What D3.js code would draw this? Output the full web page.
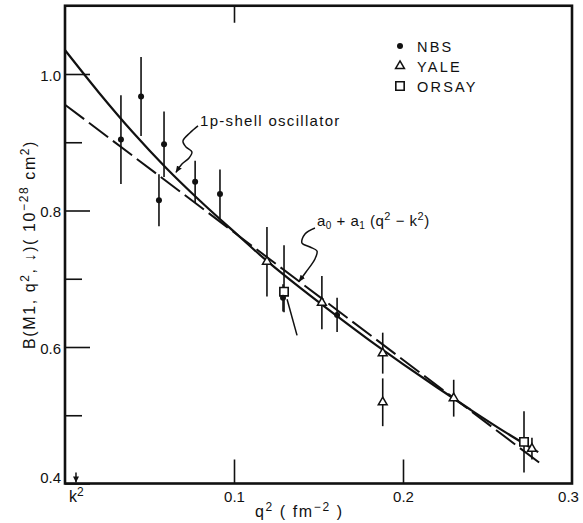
<!DOCTYPE html>
<html><head><meta charset="utf-8">
<script src="https://cdn.jsdelivr.net/npm/d3@7"></script>
<style>
body{margin:0;background:#fff;}
svg{display:block;font-family:"Liberation Sans","DejaVu Sans",sans-serif;}
</style></head>
<body>
<svg id="c" width="583" height="523"></svg>
<script>
// ---- data ----
const nbsQ   = [0.0331, 0.0450, 0.0586, 0.0556, 0.0770, 0.0917, 0.1290, 0.1610];
const nbsB   = [0.904, 0.967, 0.897, 0.815, 0.842, 0.824, 0.672, 0.647];
const nbsErr = [0.065, 0.058, 0.048, 0.038, 0.031, 0.036, 0.020, 0.025];

const yaleQ   = [0.1195, 0.152, 0.188, 0.188, 0.230, 0.2763];
const yaleB   = [0.725, 0.665, 0.591, 0.519, 0.525, 0.451];
const yaleErr = [0.051, 0.039, 0.030, 0.035, 0.027, 0.016];

const orsayQ     = [0.1296, 0.2716];
const orsayB     = [0.681, 0.461];
const orsayErrHi = [0.068, 0.045];
const orsayErrLo = [0.030, 0.045];

// 1p-shell oscillator curve
const shellQ = [0, 0.02, 0.04, 0.06, 0.08, 0.10, 0.12, 0.14, 0.16, 0.18, 0.20, 0.22, 0.24, 0.26, 0.28];
const shellB = [1.035, 0.973, 0.915, 0.862, 0.814, 0.769, 0.725, 0.685, 0.647, 0.610, 0.575, 0.541, 0.508, 0.476, 0.446];

// linear fit a0 + a1 (q^2 - k^2)
const fitQ = [0, 0.282];
const fitB = [0.955, 0.428];

const kSq = 0.0065;

const yMajor = [0.4, 0.6, 0.8, 1.0];
const yMinor = [0.5, 0.7, 0.9];
const xTicks = [0.1, 0.2, 0.3];

// annotation pointer paths (data coordinates)
const shellPtrQ = [0.0787, 0.0740, 0.0698, 0.0716, 0.0751, 0.0734, 0.0692, 0.0657];
const shellPtrB = [0.9240, 0.9140, 0.9018, 0.8930, 0.8857, 0.8769, 0.8681, 0.8560];
const fitPtrQ = [0.1479, 0.1420, 0.1402, 0.1450, 0.1491, 0.1479, 0.1426, 0.1385];
const fitPtrB = [0.7744, 0.7656, 0.7524, 0.7465, 0.7407, 0.7290, 0.7099, 0.6960];
const tailQ = [0.1314, 0.1373];
const tailB = [0.670, 0.617];

// ---- drawing ----
const svg = d3.select("#c");
const x = d3.scaleLinear().domain([0, 0.3]).range([65, 572]);
const y = d3.scaleLinear().domain([0.4, 1.1]).range([483.5, 5.75]);
const ink = "#111";

svg.append("defs").append("marker")
  .attr("id","ah").attr("viewBox","0 0 10 10").attr("refX",9).attr("refY",5)
  .attr("markerWidth",7).attr("markerHeight",7).attr("markerUnits","userSpaceOnUse")
  .attr("orient","auto")
  .append("path").attr("d","M0,1 L10,5 L0,9 Z").attr("fill",ink);

// frame
svg.append("rect").attr("x", x(0)).attr("y", y(1.1))
  .attr("width", x(0.3)-x(0)).attr("height", y(0.4)-y(1.1))
  .attr("fill","none").attr("stroke",ink).attr("stroke-width",2.6);

// left ticks
const gL = svg.append("g").attr("transform",`translate(${x(0)},0)`);
gL.call(d3.axisLeft(y).tickValues(yMajor).tickSize(-25).tickFormat(d3.format(".1f")).tickPadding(4));
const gLm = svg.append("g").attr("transform",`translate(${x(0)},0)`);
gLm.call(d3.axisLeft(y).tickValues(yMinor).tickSize(-17).tickFormat(""));
[gL,gLm].forEach(g=>{ g.select(".domain").remove();
  g.selectAll("line").attr("stroke",ink).attr("stroke-width",1.6);});
gL.selectAll("text").attr("font-size",15).attr("fill",ink).attr("font-family","Liberation Sans")
  .attr("dy", d => d===0.4 ? "-0.05em" : "0.4em");

// bottom ticks
const gB = svg.append("g").attr("transform",`translate(0,${y(0.4)})`);
gB.call(d3.axisBottom(x).tickValues(xTicks).tickSize(-24).tickPadding(6).tickFormat(d3.format(".1f")));
gB.select(".domain").remove();
gB.selectAll("line").attr("stroke",ink).attr("stroke-width",1.6).attr("opacity", d => d===0.3 ? 0 : 1);
gB.selectAll("text").attr("font-size",15).attr("fill",ink).attr("font-family","Liberation Sans")
  .attr("dy","0.85em").attr("dx", d => d===0.3 ? -4 : 0);

// top tick
const gT = svg.append("g").attr("transform",`translate(0,${y(1.1)})`);
gT.call(d3.axisTop(x).tickValues([0.1]).tickSize(-17).tickFormat(""));
gT.select(".domain").remove();
gT.selectAll("line").attr("stroke",ink).attr("stroke-width",1.6);

// k^2 marker
svg.append("line").attr("x1",x(kSq)).attr("x2",x(kSq)).attr("y1",y(0.4)-11).attr("y2",y(0.4)-1)
  .attr("stroke",ink).attr("stroke-width",1.5);
svg.append("path").attr("d",`M${x(kSq)-3},${y(0.4)-7} L${x(kSq)+3},${y(0.4)-7} L${x(kSq)},${y(0.4)-1} Z`).attr("fill",ink);
const kt = svg.append("text").attr("x",x(kSq)-7).attr("y",502).attr("font-size",16).attr("fill",ink);
kt.append("tspan").text("k");
kt.append("tspan").attr("dy",-6).attr("font-size",12).text("2");

// axis titles
const xt = svg.append("text").attr("x",255).attr("y",517).attr("font-size",16).attr("fill",ink).attr("letter-spacing",1.6);
xt.append("tspan").text("q");
xt.append("tspan").attr("dy",-6).attr("font-size",12).text("2");
xt.append("tspan").attr("dy",6).text(" ( fm");
xt.append("tspan").attr("dy",-6).attr("font-size",12).text("−2");
xt.append("tspan").attr("dy",6).text(" )");

const yt = svg.append("text").attr("transform","translate(35,349) rotate(-90)")
  .attr("font-size",16).attr("fill",ink).attr("letter-spacing",1.6);
yt.append("tspan").text("B(M1, q");
yt.append("tspan").attr("dy",-6).attr("font-size",12).text("2");
yt.append("tspan").attr("dy",6).text(", ↓)( 10");
yt.append("tspan").attr("dy",-7).attr("font-size",12).text("−28");
yt.append("tspan").attr("dy",7).text(" cm");
yt.append("tspan").attr("dy",-6).attr("font-size",12).text("2");
yt.append("tspan").attr("dy",6).text(")");

// curves
const line = d3.line().x(d=>x(d[0])).y(d=>y(d[1]));
svg.append("path").datum(shellQ.map((q,i)=>[q,shellB[i]]))
  .attr("d", line.curve(d3.curveMonotoneX)).attr("fill","none").attr("stroke",ink).attr("stroke-width",2.2);
svg.append("path").datum(fitQ.map((q,i)=>[q,fitB[i]]))
  .attr("d", d3.line().x(d=>x(d[0])).y(d=>y(d[1]))).attr("fill","none").attr("stroke",ink)
  .attr("stroke-width",2).attr("stroke-dasharray","24,6");

// error bars
function bars(Q,B,lo,hi){
  svg.append("g").selectAll("line").data(Q).join("line")
    .attr("x1",(d)=>x(d)).attr("x2",(d)=>x(d))
    .attr("y1",(d,i)=>y(B[i]+hi[i])).attr("y2",(d,i)=>y(B[i]-lo[i]))
    .attr("stroke",ink).attr("stroke-width",1.6);
}
bars(nbsQ,nbsB,nbsErr,nbsErr);
bars(yaleQ,yaleB,yaleErr,yaleErr);
bars(orsayQ,orsayB,orsayErrLo,orsayErrHi);

svg.append("path").datum(tailQ.map((q,i)=>[q,tailB[i]]))
  .attr("d", d3.line().x(d=>x(d[0])).y(d=>y(d[1]))).attr("stroke",ink).attr("stroke-width",1.5).attr("fill","none");

// markers
const tri = d3.symbol().type(d3.symbolTriangle).size(34);
const sq = d3.symbol().type(d3.symbolSquare).size(70);
svg.append("g").selectAll("path").data(orsayQ).join("path")
  .attr("transform",(d,i)=>`translate(${x(d)},${y(orsayB[i])})`)
  .attr("d",sq).attr("fill","#fff").attr("stroke",ink).attr("stroke-width",1.6);
svg.append("g").selectAll("path").data(yaleQ).join("path")
  .attr("transform",(d,i)=>`translate(${x(d)},${y(yaleB[i])})`)
  .attr("d",tri).attr("fill","#fff").attr("stroke",ink).attr("stroke-width",1.5);
svg.append("g").selectAll("circle").data(nbsQ).join("circle")
  .attr("cx",d=>x(d)).attr("cy",(d,i)=>y(nbsB[i])).attr("r",3).attr("fill",ink);

// annotations
const smooth = d3.line().x(d=>x(d[0])).y(d=>y(d[1])).curve(d3.curveCatmullRom);
svg.append("path").datum(shellPtrQ.map((q,i)=>[q,shellPtrB[i]]))
  .attr("d",smooth).attr("fill","none").attr("stroke",ink).attr("stroke-width",1.5).attr("marker-end","url(#ah)");
svg.append("path").datum(fitPtrQ.map((q,i)=>[q,fitPtrB[i]]))
  .attr("d",smooth).attr("fill","none").attr("stroke",ink).attr("stroke-width",1.5).attr("marker-end","url(#ah)");

svg.append("text").attr("x",x(shellPtrQ[0])+2).attr("y",126).attr("font-size",15)
  .attr("letter-spacing",1.3).attr("fill",ink).text("1p-shell oscillator");

const ft = svg.append("text").attr("x",x(fitPtrQ[0])+2).attr("y",226).attr("font-size",15).attr("fill",ink).attr("letter-spacing",0.5);
ft.append("tspan").text("a");
ft.append("tspan").attr("dy",3).attr("font-size",10).text("0");
ft.append("tspan").attr("dy",-3).text(" + a");
ft.append("tspan").attr("dy",3).attr("font-size",10).text("1");
ft.append("tspan").attr("dy",-3).text(" (q");
ft.append("tspan").attr("dy",-6).attr("font-size",11).text("2");
ft.append("tspan").attr("dy",6).text(" − k");
ft.append("tspan").attr("dy",-6).attr("font-size",11).text("2");
ft.append("tspan").attr("dy",6).text(")");

// legend
const legNames = ["NBS","YALE","ORSAY"];
const leg = svg.append("g");
legNames.forEach((n,i)=>{
  const cy = 46 + i*20;
  if(i===0) leg.append("circle").attr("cx",400).attr("cy",cy).attr("r",3).attr("fill",ink);
  if(i===1) leg.append("path").attr("transform",`translate(400,${cy})`).attr("d",tri).attr("fill","#fff").attr("stroke",ink).attr("stroke-width",1.5);
  if(i===2) leg.append("path").attr("transform",`translate(400,${cy})`).attr("d",sq).attr("fill","#fff").attr("stroke",ink).attr("stroke-width",1.6);
  leg.append("text").attr("x",417).attr("y",cy+5.5).attr("font-size",14.5).attr("letter-spacing",2.2).attr("fill",ink).text(n);
});
</script>
</body></html>
